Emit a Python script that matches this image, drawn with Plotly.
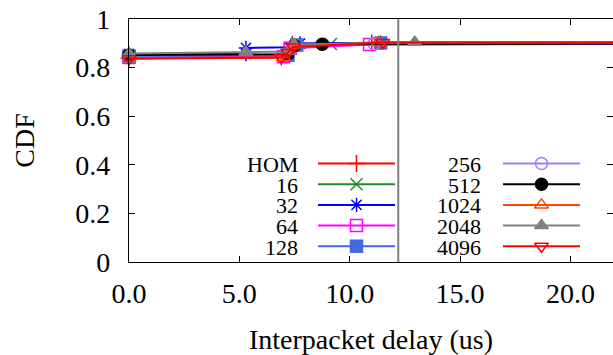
import plotly.graph_objects as go

# CDF of interpacket delay, one series per configuration
series_names = ["HOM", "16", "32", "64", "128", "256", "512", "1024", "2048", "4096"]

delay_hom = [0.0, 6.9, 7.4, 11.0, 60.0]
cdf_hom = [0.838, 0.843, 0.897, 0.902, 0.904]

delay_16 = [0.0, 7.2, 7.6, 9.15, 60.0]
cdf_16 = [0.845, 0.850, 0.893, 0.897, 0.904]

delay_32 = [0.0, 5.3, 5.3, 7.3, 7.75, 11.4, 60.0]
cdf_32 = [0.856, 0.856, 0.881, 0.884, 0.899, 0.902, 0.904]

delay_64 = [0.0, 7.0, 7.3, 10.9, 60.0]
cdf_64 = [0.842, 0.845, 0.880, 0.895, 0.904]

delay_128 = [0.0, 7.2, 7.6, 11.4, 60.0]
cdf_128 = [0.848, 0.851, 0.893, 0.901, 0.904]

delay_256 = [0.0, 7.1, 7.5, 11.1, 60.0]
cdf_256 = [0.850, 0.853, 0.892, 0.898, 0.904]

delay_512 = [0.0, 7.2, 7.5, 8.75, 60.0]
cdf_512 = [0.852, 0.855, 0.890, 0.896, 0.904]

delay_1024 = [0.0, 7.0, 7.4, 11.3, 60.0]
cdf_1024 = [0.838, 0.842, 0.890, 0.903, 0.904]

delay_2048 = [0.0, 5.3, 7.2, 7.5, 12.95, 60.0]
cdf_2048 = [0.858, 0.863, 0.866, 0.895, 0.904, 0.904]

delay_4096 = [0.0, 6.9, 7.2, 7.45, 11.5, 60.0]
cdf_4096 = [0.836, 0.842, 0.862, 0.885, 0.903, 0.904]

x_ticks = [0, 5, 10, 15, 20]
y_ticks = [0, 0.2, 0.4, 0.6, 0.8, 1.0]
marker_line_x = 12.2

delays = [delay_hom, delay_16, delay_32, delay_64, delay_128,
          delay_256, delay_512, delay_1024, delay_2048, delay_4096]
cdfs = [cdf_hom, cdf_16, cdf_32, cdf_64, cdf_128,
        cdf_256, cdf_512, cdf_1024, cdf_2048, cdf_4096]

colors = ["#ff0000", "#228b22", "#0000ff", "#ff00ff", "#4169e1",
          "#a07cf0", "#000000", "#ff4500", "#808080", "#ff0000"]
symbols = ["cross-thin-open", "x-thin-open", "asterisk-open", "square-open", "square",
           "circle-open", "circle", "triangle-up-open", "triangle-up", "triangle-down-open"]

FONT = "Liberation Serif, Times New Roman, serif"

fig = go.Figure()

for name, xs, ys, col, sym in zip(series_names, delays, cdfs, colors, symbols):
    fig.add_trace(go.Scatter(
        x=xs, y=ys, mode="lines+markers", name=name,
        line=dict(color=col, width=2),
        marker=dict(symbol=sym, size=12, color=col,
                    line=dict(color=col, width=1.5)),
        cliponaxis=False, showlegend=False,
    ))

# gnuplot-style key: label right-aligned, then a line sample with its point
key_rows = [163.5, 184.2, 204.9, 225.6, 246.3]
key_cols = [dict(text_x=300, x0=318, x1=395), dict(text_x=483, x0=503, x1=580)]
annotations = []
for i, (name, col, sym) in enumerate(zip(series_names, colors, symbols)):
    c = key_cols[i // 5]
    yrow = key_rows[i % 5]
    fig.add_trace(go.Scatter(
        x=[c["x0"], c["x1"]], y=[yrow, yrow], mode="lines",
        line=dict(color=col, width=2), xaxis="x2", yaxis="y2",
        showlegend=False, hoverinfo="skip",
    ))
    fig.add_trace(go.Scatter(
        x=[(c["x0"] + c["x1"]) / 2], y=[yrow], mode="markers",
        marker=dict(symbol=sym, size=12, color=col,
                    line=dict(color=col, width=1.5)),
        xaxis="x2", yaxis="y2", showlegend=False, hoverinfo="skip",
    ))
    annotations.append(dict(
        x=c["text_x"], y=yrow + 1, xref="x2", yref="y2", text=name,
        showarrow=False, xanchor="right", yanchor="middle",
        font=dict(family=FONT, size=22, color="black"),
    ))

# right-hand tick marks without a border line
fig.add_trace(go.Scatter(x=[None], y=[None], yaxis="y3", showlegend=False,
                         hoverinfo="skip"))

axis_font = dict(family=FONT, size=28, color="black")

fig.update_layout(
    width=613, height=355,
    margin=dict(l=129, r=0, t=19, b=93),
    paper_bgcolor="white", plot_bgcolor="white",
    font=dict(family=FONT, color="black"),
    annotations=annotations,
    shapes=[dict(type="line", xref="x", yref="y",
                 x0=marker_line_x, x1=marker_line_x, y0=0, y1=1,
                 line=dict(color="#808080", width=2), layer="above")],
    xaxis=dict(
        range=[0, 21.93], tickvals=x_ticks, tickformat=".1f",
        ticks="inside", ticklen=6, tickwidth=1, tickcolor="black",
        showline=True, linecolor="black", linewidth=1.2, mirror="ticks",
        showgrid=False, zeroline=False, tickfont=axis_font,
        ticklabelstandoff=6,
        title=dict(text="Interpacket delay (us)", font=axis_font, standoff=23),
    ),
    yaxis=dict(
        range=[0, 1], tickvals=y_ticks,
        ticks="inside", ticklen=6, tickwidth=1, tickcolor="black",
        showline=True, linecolor="black", linewidth=1.2, mirror=False,
        showgrid=False, zeroline=False, tickfont=axis_font,
        ticklabelstandoff=12,
        title=dict(text="CDF", font=dict(family=FONT, size=28, color="black"),
                   standoff=32),
    ),
    yaxis3=dict(
        overlaying="y", side="right", matches="y", anchor="x",
        tickvals=y_ticks, ticks="inside", ticklen=6, tickwidth=1,
        tickcolor="black", showticklabels=False, showline=False,
        showgrid=False, zeroline=False,
    ),
    xaxis2=dict(overlaying="x", anchor="y2", range=[129, 613], visible=False),
    yaxis2=dict(overlaying="y", anchor="x2", range=[262, 19], visible=False),
)

fig.write_html("out.html")
